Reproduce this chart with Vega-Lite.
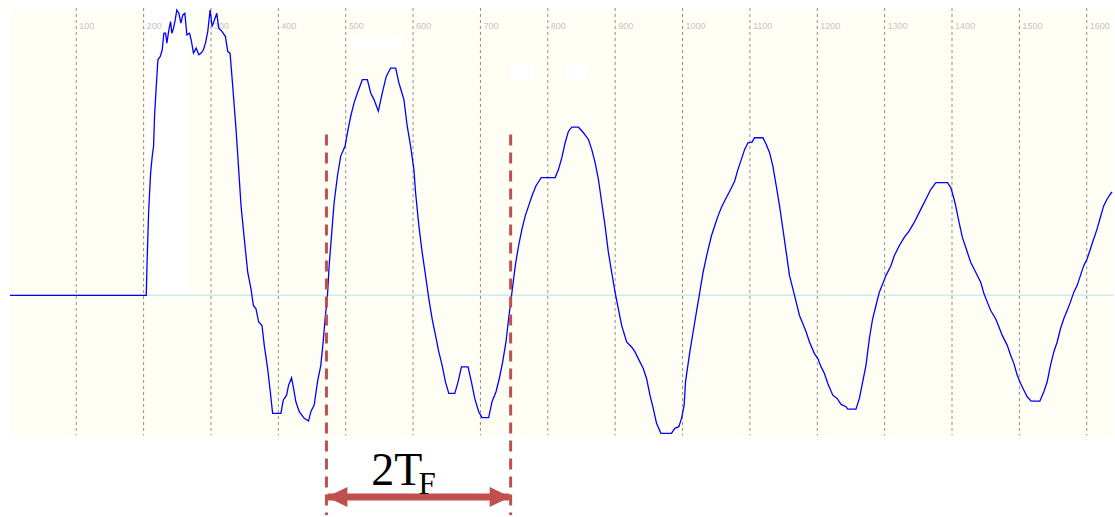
{
  "$schema": "https://vega.github.io/schema/vega-lite/v6.json",
  "width": 1115,
  "height": 517,
  "autosize": {"type": "fit", "contains": "padding"},
  "padding": 0,
  "background": "#ffffff",
  "config": {"view": {"stroke": null}},
  "datasets": {
    "bg": [{"x": 1.6, "x2": 1640, "y": 287.5, "y2": -141.5}],
    "masks": [
      {"x": 204.4, "x2": 265.1, "y": 287.5, "y2": 0},
      {"x": 507.5, "x2": 583.9, "y": 259.8, "y2": 246.5},
      {"x": 744.3, "x2": 778.8, "y": 231.5, "y2": 216.5},
      {"x": 828.1, "x2": 855.4, "y": 231.5, "y2": 216.5}
    ],
    "zero": [{"x": 1.6, "x2": 1640, "y": 0}],
    "grid": [
      {"x": 100, "y": 288.5, "y2": -140.5}, {"x": 200, "y": 288.5, "y2": -140.5},
      {"x": 300, "y": 288.5, "y2": -140.5}, {"x": 400, "y": 288.5, "y2": -140.5},
      {"x": 500, "y": 288.5, "y2": -140.5}, {"x": 600, "y": 288.5, "y2": -140.5},
      {"x": 700, "y": 288.5, "y2": -140.5}, {"x": 800, "y": 288.5, "y2": -140.5},
      {"x": 900, "y": 288.5, "y2": -140.5}, {"x": 1000, "y": 288.5, "y2": -140.5},
      {"x": 1100, "y": 288.5, "y2": -140.5}, {"x": 1200, "y": 288.5, "y2": -140.5},
      {"x": 1300, "y": 288.5, "y2": -140.5}, {"x": 1400, "y": 288.5, "y2": -140.5},
      {"x": 1500, "y": 288.5, "y2": -140.5}, {"x": 1600, "y": 288.5, "y2": -140.5}
    ],
    "labels": [
      {"x": 100, "y": 270.5}, {"x": 200, "y": 270.5}, {"x": 300, "y": 270.5}, {"x": 400, "y": 270.5},
      {"x": 500, "y": 270.5}, {"x": 600, "y": 270.5}, {"x": 700, "y": 270.5}, {"x": 800, "y": 270.5},
      {"x": 900, "y": 270.5}, {"x": 1000, "y": 270.5}, {"x": 1100, "y": 270.5}, {"x": 1200, "y": 270.5},
      {"x": 1300, "y": 270.5}, {"x": 1400, "y": 270.5}, {"x": 1500, "y": 270.5}, {"x": 1600, "y": 270.5}
    ],
    "wave": [
      {"x": 1.6, "y": 0}, {"x": 203.9, "y": 0},
      {"x": 205.4, "y": 39.8}, {"x": 207.4, "y": 83.2}, {"x": 210.4, "y": 123.2}, {"x": 212.8, "y": 139.8},
      {"x": 214.8, "y": 149.8}, {"x": 216.3, "y": 181.5}, {"x": 218.8, "y": 209.8}, {"x": 221.2, "y": 236.5},
      {"x": 224.7, "y": 239.8}, {"x": 227.6, "y": 246.5}, {"x": 230.1, "y": 263.2}, {"x": 232.6, "y": 263.2},
      {"x": 234.5, "y": 253.2}, {"x": 237.5, "y": 266.5}, {"x": 240.0, "y": 274.8}, {"x": 241.9, "y": 263.2},
      {"x": 244.4, "y": 268.2}, {"x": 246.9, "y": 276.5}, {"x": 249.3, "y": 286.5}, {"x": 252.3, "y": 283.2},
      {"x": 255.3, "y": 273.2}, {"x": 258.2, "y": 281.5}, {"x": 261.2, "y": 283.2}, {"x": 264.2, "y": 261.5},
      {"x": 268.1, "y": 263.2}, {"x": 270.6, "y": 256.5}, {"x": 274.0, "y": 243.2}, {"x": 278.0, "y": 248.2},
      {"x": 281.9, "y": 241.5}, {"x": 285.4, "y": 243.2}, {"x": 288.8, "y": 246.5}, {"x": 291.8, "y": 253.2},
      {"x": 295.2, "y": 264.8}, {"x": 298.7, "y": 286.5}, {"x": 301.7, "y": 269.8}, {"x": 305.1, "y": 276.5},
      {"x": 308.6, "y": 283.2}, {"x": 311.5, "y": 268.2}, {"x": 316.5, "y": 264.8}, {"x": 321.4, "y": 259.8},
      {"x": 324.9, "y": 244.8}, {"x": 328.3, "y": 243.2}, {"x": 332.3, "y": 209.8}, {"x": 337.2, "y": 166.5},
      {"x": 341.1, "y": 126.5}, {"x": 344.6, "y": 89.8}, {"x": 349.5, "y": 56.5}, {"x": 354.5, "y": 23.2},
      {"x": 359.4, "y": 6.5}, {"x": 362.9, "y": -10.2}, {"x": 366.8, "y": -13.5}, {"x": 370.8, "y": -26.8},
      {"x": 375.7, "y": -30.2}, {"x": 379.1, "y": -50.2}, {"x": 384.1, "y": -73.5}, {"x": 388.0, "y": -96.8},
      {"x": 391.5, "y": -118.5}, {"x": 403.8, "y": -118.5}, {"x": 407.3, "y": -105.2}, {"x": 412.2, "y": -100.2},
      {"x": 415.2, "y": -90.2}, {"x": 419.6, "y": -82.8}, {"x": 422.6, "y": -93.5}, {"x": 426.0, "y": -106.8},
      {"x": 431.0, "y": -116.8}, {"x": 438.4, "y": -123.5}, {"x": 444.8, "y": -126.2}, {"x": 448.2, "y": -116.8},
      {"x": 453.2, "y": -110.2}, {"x": 458.1, "y": -86.8}, {"x": 463.0, "y": -70.2}, {"x": 466.5, "y": -46.8},
      {"x": 469.4, "y": -23.5}, {"x": 472.9, "y": -0.2}, {"x": 475.4, "y": 29.8}, {"x": 479.3, "y": 63.2},
      {"x": 482.8, "y": 93.2}, {"x": 487.7, "y": 119.8}, {"x": 492.6, "y": 139.8}, {"x": 499.1, "y": 149.8},
      {"x": 502.5, "y": 163.2}, {"x": 507.4, "y": 179.8}, {"x": 512.4, "y": 193.2}, {"x": 517.3, "y": 203.2},
      {"x": 524.7, "y": 216.5}, {"x": 532.1, "y": 216.5}, {"x": 537.1, "y": 203.2}, {"x": 542.0, "y": 196.5},
      {"x": 548.4, "y": 184.8}, {"x": 554.3, "y": 203.2}, {"x": 560.2, "y": 219.8}, {"x": 566.7, "y": 228.2},
      {"x": 574.1, "y": 228.2}, {"x": 579.0, "y": 213.2}, {"x": 586.4, "y": 196.5}, {"x": 591.3, "y": 169.8},
      {"x": 596.3, "y": 149.8}, {"x": 601.2, "y": 126.5},
      {"x": 603.7, "y": 103.2}, {"x": 608.6, "y": 69.8}, {"x": 613.5, "y": 43.2}, {"x": 618.5, "y": 19.8},
      {"x": 623.4, "y": -3.5}, {"x": 628.3, "y": -23.5}, {"x": 633.3, "y": -40.2}, {"x": 638.2, "y": -56.8},
      {"x": 643.1, "y": -70.2}, {"x": 648.1, "y": -86.8}, {"x": 653.0, "y": -98.5}, {"x": 661.9, "y": -98.5},
      {"x": 666.8, "y": -86.8}, {"x": 671.8, "y": -71.8}, {"x": 681.6, "y": -71.8}, {"x": 686.6, "y": -86.8},
      {"x": 691.5, "y": -103.5}, {"x": 697.4, "y": -116.8}, {"x": 702.4, "y": -122.8}, {"x": 712.2, "y": -122.8},
      {"x": 717.2, "y": -106.8}, {"x": 723.1, "y": -96.8}, {"x": 728.0, "y": -83.5}, {"x": 733.0, "y": -66.8},
      {"x": 737.9, "y": -46.8}, {"x": 741.8, "y": -23.5}, {"x": 746.8, "y": 3.2}, {"x": 751.7, "y": 29.8},
      {"x": 756.6, "y": 49.8}, {"x": 761.6, "y": 66.5}, {"x": 766.5, "y": 79.8}, {"x": 771.5, "y": 89.8},
      {"x": 776.4, "y": 99.8}, {"x": 782.3, "y": 109.8}, {"x": 790.2, "y": 118.2}, {"x": 810.9, "y": 118.2},
      {"x": 815.9, "y": 126.5}, {"x": 820.8, "y": 138.2}, {"x": 825.7, "y": 153.2}, {"x": 830.7, "y": 164.8},
      {"x": 835.6, "y": 168.8}, {"x": 845.5, "y": 168.8}, {"x": 852.9, "y": 163.2}, {"x": 860.3, "y": 156.5},
      {"x": 865.2, "y": 146.5}, {"x": 870.2, "y": 133.2}, {"x": 875.1, "y": 116.5}, {"x": 880.0, "y": 93.2},
      {"x": 885.0, "y": 69.8}, {"x": 889.9, "y": 43.2}, {"x": 894.8, "y": 23.2}, {"x": 899.8, "y": 3.2},
      {"x": 904.7, "y": -13.5}, {"x": 909.6, "y": -30.2}, {"x": 917.0, "y": -46.8}, {"x": 924.4, "y": -51.8},
      {"x": 929.4, "y": -56.8}, {"x": 934.3, "y": -63.5}, {"x": 941.7, "y": -73.5}, {"x": 946.6, "y": -83.5},
      {"x": 951.6, "y": -100.2}, {"x": 956.5, "y": -113.5}, {"x": 961.4, "y": -128.5}, {"x": 967.9, "y": -138.5},
      {"x": 983.6, "y": -138.5}, {"x": 988.6, "y": -133.5}, {"x": 994.5, "y": -131.8}, {"x": 998.5, "y": -123.5},
      {"x": 1002.4, "y": -110.2},
      {"x": 1004.4, "y": -86.8}, {"x": 1010.8, "y": -56.8}, {"x": 1015.7, "y": -36.8}, {"x": 1020.6, "y": -16.8},
      {"x": 1025.6, "y": 3.2}, {"x": 1030.5, "y": 23.2}, {"x": 1036.9, "y": 43.2}, {"x": 1042.9, "y": 59.8},
      {"x": 1047.8, "y": 69.8}, {"x": 1052.7, "y": 79.8}, {"x": 1058.6, "y": 89.8}, {"x": 1065.1, "y": 98.2},
      {"x": 1071.5, "y": 106.5}, {"x": 1077.4, "y": 114.8}, {"x": 1082.3, "y": 126.5}, {"x": 1087.3, "y": 136.5},
      {"x": 1092.2, "y": 146.5}, {"x": 1097.1, "y": 153.2}, {"x": 1103.1, "y": 153.8}, {"x": 1107.0, "y": 158.2},
      {"x": 1119.3, "y": 158.2}, {"x": 1124.3, "y": 151.5}, {"x": 1129.2, "y": 143.2}, {"x": 1134.1, "y": 129.8},
      {"x": 1139.1, "y": 109.8}, {"x": 1144.0, "y": 89.8}, {"x": 1149.0, "y": 66.5}, {"x": 1153.9, "y": 43.2},
      {"x": 1158.8, "y": 19.8}, {"x": 1163.8, "y": 6.5}, {"x": 1168.7, "y": -6.8}, {"x": 1173.6, "y": -20.2},
      {"x": 1178.6, "y": -28.5}, {"x": 1183.5, "y": -36.8}, {"x": 1188.4, "y": -46.8}, {"x": 1195.8, "y": -58.5},
      {"x": 1200.8, "y": -63.5}, {"x": 1205.7, "y": -71.8}, {"x": 1210.6, "y": -78.5}, {"x": 1215.6, "y": -88.5},
      {"x": 1223.0, "y": -100.2}, {"x": 1229.4, "y": -103.5}, {"x": 1235.3, "y": -109.5}, {"x": 1242.7, "y": -111.8},
      {"x": 1245.2, "y": -114.2}, {"x": 1257.5, "y": -114.2}, {"x": 1262.5, "y": -103.5}, {"x": 1267.4, "y": -86.8},
      {"x": 1272.3, "y": -70.2}, {"x": 1277.3, "y": -43.5}, {"x": 1282.2, "y": -23.5}, {"x": 1287.1, "y": -10.2},
      {"x": 1292.1, "y": 3.2}, {"x": 1297.0, "y": 11.5}, {"x": 1301.9, "y": 19.8}, {"x": 1309.3, "y": 29.8},
      {"x": 1314.3, "y": 39.8}, {"x": 1321.7, "y": 49.8}, {"x": 1329.1, "y": 58.2}, {"x": 1336.5, "y": 64.8},
      {"x": 1343.9, "y": 73.2}, {"x": 1348.8, "y": 79.8}, {"x": 1356.2, "y": 89.8}, {"x": 1361.2, "y": 96.5},
      {"x": 1368.6, "y": 106.5}, {"x": 1376.0, "y": 113.2}, {"x": 1393.2, "y": 113.2}, {"x": 1398.2, "y": 108.2},
      {"x": 1403.1, "y": 96.5},
      {"x": 1405.5, "y": 89.8}, {"x": 1410.5, "y": 73.2}, {"x": 1415.4, "y": 58.2}, {"x": 1422.8, "y": 43.2},
      {"x": 1427.7, "y": 33.2}, {"x": 1435.2, "y": 23.2}, {"x": 1442.6, "y": 13.2}, {"x": 1447.5, "y": 1.5},
      {"x": 1452.4, "y": -6.8}, {"x": 1457.4, "y": -15.2}, {"x": 1464.8, "y": -23.5}, {"x": 1469.7, "y": -31.8},
      {"x": 1474.6, "y": -40.2}, {"x": 1482.0, "y": -50.2}, {"x": 1487.0, "y": -60.2}, {"x": 1491.9, "y": -68.5},
      {"x": 1496.8, "y": -80.2}, {"x": 1501.8, "y": -88.5}, {"x": 1506.7, "y": -95.2}, {"x": 1511.6, "y": -101.8},
      {"x": 1517.6, "y": -106.2}, {"x": 1530.4, "y": -106.2}, {"x": 1536.3, "y": -96.8}, {"x": 1541.3, "y": -86.8},
      {"x": 1546.2, "y": -70.2}, {"x": 1551.1, "y": -56.8}, {"x": 1556.1, "y": -46.8}, {"x": 1561.0, "y": -33.5},
      {"x": 1565.9, "y": -23.5}, {"x": 1570.9, "y": -15.2}, {"x": 1575.8, "y": -6.8}, {"x": 1580.8, "y": 3.2},
      {"x": 1585.7, "y": 9.8}, {"x": 1590.6, "y": 19.8}, {"x": 1595.5, "y": 29.8}, {"x": 1600.5, "y": 36.5},
      {"x": 1605.4, "y": 46.5}, {"x": 1610.3, "y": 56.5}, {"x": 1615.3, "y": 66.5}, {"x": 1620.2, "y": 78.2},
      {"x": 1625.1, "y": 89.8}, {"x": 1630.1, "y": 96.5}, {"x": 1635.0, "y": 101.5}, {"x": 1637.5, "y": 103.8}
    ],
    "markers": [
      {"x": 471.4, "y": 161.5, "y2": -220.5},
      {"x": 744.8, "y": 161.5, "y2": -220.5}
    ],
    "arrow": [{"x": 473, "x2": 743, "y": -202.5}],
    "heads": [
      {"x": 471.4, "y": -202.5, "side": "left"},
      {"x": 744.8, "y": -202.5, "side": "right"}
    ],
    "big": [{"x": 538, "y": -190.5, "t": "2T"}],
    "sub": [{"x": 608, "y": -199.5, "t": "F"}]
  },
  "encoding": {
    "x": {"field": "x", "type": "quantitative", "scale": {"domain": [-13.2, 1637.5], "nice": false, "zero": false}, "axis": null},
    "y": {"field": "y", "type": "quantitative", "scale": {"domain": [-220.5, 296.5], "nice": false, "zero": false}, "axis": null}
  },
  "layer": [
    {
      "data": {"name": "bg"},
      "mark": {"type": "rect", "color": "#fffef5"},
      "encoding": {"x2": {"field": "x2"}, "y2": {"field": "y2"}}
    },
    {
      "data": {"name": "masks"},
      "mark": {"type": "rect", "color": "#ffffff"},
      "encoding": {"x2": {"field": "x2"}, "y2": {"field": "y2"}}
    },
    {
      "data": {"name": "zero"},
      "mark": {"type": "rule", "color": "#cdecf0", "strokeWidth": 1.5},
      "encoding": {"x2": {"field": "x2"}}
    },
    {
      "data": {"name": "grid"},
      "mark": {"type": "rule", "color": "#8c8c8c", "strokeWidth": 1, "strokeDash": [3, 3]},
      "encoding": {"y2": {"field": "y2"}}
    },
    {
      "data": {"name": "labels"},
      "mark": {"type": "text", "align": "left", "baseline": "middle", "dx": 3, "font": "Liberation Sans", "fontSize": 9, "color": "#c4c4c4"},
      "encoding": {"text": {"field": "x", "type": "quantitative", "format": "d"}}
    },
    {
      "data": {"name": "wave"},
      "mark": {"type": "line", "color": "#0000ff", "strokeWidth": 1.3, "interpolate": "linear"},
      "encoding": {}
    },
    {
      "data": {"name": "markers"},
      "mark": {"type": "rule", "color": "#c0504d", "strokeWidth": 3, "strokeDash": [11, 7]},
      "encoding": {"y2": {"field": "y2"}}
    },
    {
      "data": {"name": "arrow"},
      "mark": {"type": "rule", "color": "#c0504d", "strokeWidth": 7},
      "encoding": {"x2": {"field": "x2"}}
    },
    {
      "data": {"name": "heads"},
      "mark": {"type": "point", "filled": true, "opacity": 1, "color": "#c0504d", "size": 400, "strokeWidth": 0},
      "encoding": {
        "shape": {"field": "side", "type": "nominal", "legend": null,
          "scale": {"domain": ["left", "right"], "range": ["M0,0L2.1,-1L2.1,1Z", "M0,0L-2.1,-1L-2.1,1Z"]}}
      }
    },
    {
      "data": {"name": "big"},
      "mark": {"type": "text", "align": "left", "baseline": "alphabetic", "font": "Liberation Serif", "fontSize": 46, "color": "#000000"},
      "encoding": {"text": {"field": "t"}}
    },
    {
      "data": {"name": "sub"},
      "mark": {"type": "text", "align": "left", "baseline": "alphabetic", "font": "Liberation Serif", "fontSize": 31, "color": "#000000"},
      "encoding": {"text": {"field": "t"}}
    }
  ]
}
